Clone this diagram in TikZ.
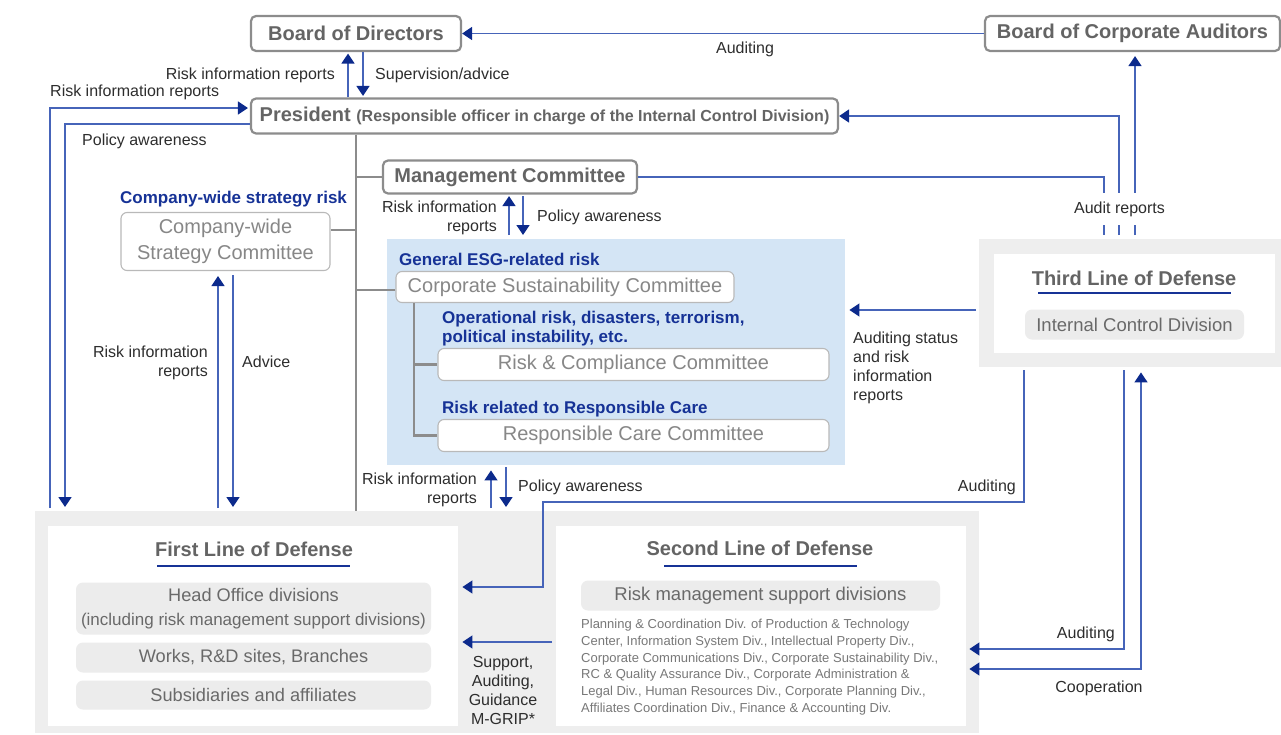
\documentclass[tikz,border=0pt]{standalone}
\usepackage{fontspec}
\setmainfont{Liberation Sans}
\usetikzlibrary{arrows.meta}
\definecolor{lineblue}{RGB}{70,100,185}
\definecolor{tipblue}{RGB}{12,42,140}
\definecolor{navy}{RGB}{22,50,150}
\definecolor{boxgray}{RGB}{140,140,140}
\definecolor{headgray}{RGB}{100,100,100}
\definecolor{lightborder}{RGB}{185,185,185}
\definecolor{committeetext}{RGB}{135,135,135}
\definecolor{pillgray}{RGB}{236,236,236}
\definecolor{panelgray}{RGB}{238,238,238}
\definecolor{esgblue}{RGB}{212,229,245}
\definecolor{labeltext}{RGB}{45,45,45}
\definecolor{pilltext}{RGB}{105,105,105}
\definecolor{smalltext}{RGB}{120,120,120}
\begin{document}
\begin{tikzpicture}[x=1pt,y=-1pt,
  bigbox/.style={draw=boxgray, line width=2.2pt, rounded corners=5pt, fill=white, text=headgray, font=\bfseries\fontsize{20}{24}\selectfont, inner sep=0pt},
  commbox/.style={draw=lightborder, line width=1.1pt, rounded corners=6pt, fill=white, text=committeetext, font=\fontsize{20}{26}\selectfont, inner sep=0pt, align=center},
  pill/.style={fill=pillgray, rounded corners=7pt, text=pilltext, font=\fontsize{18.2}{24}\selectfont, inner sep=0pt, align=center},
  bigpill/.style={pill, font=\fontsize{18.5}{24}\selectfont},
  lbl/.style={text=labeltext, font=\fontsize{16}{19}\selectfont, inner sep=0pt},
  risklbl/.style={text=navy, font=\bfseries\fontsize{17}{19.5}\selectfont, inner sep=0pt, align=left},
  heading/.style={text=headgray, font=\bfseries\fontsize{20}{24}\selectfont, inner sep=0pt},
  panel/.style={fill=panelgray, inner sep=0pt, anchor=north west},
  whitepanel/.style={fill=white, inner sep=0pt, anchor=north west},
  ln/.style={draw=lineblue, line width=1.4pt},
  arr/.style={ln, -{Triangle[length=10pt,width=13pt,fill=tipblue,color=tipblue]}},
  arrboth/.style={ln, {Triangle[length=10pt,width=13pt,fill=tipblue,color=tipblue]}-{Triangle[length=10pt,width=13pt,fill=tipblue,color=tipblue]}},
  trunk/.style={draw=boxgray, line width=2.8pt},
  uline/.style={draw=navy, line width=1.5pt}
]
\useasboundingbox (0,0) rectangle (1281,734);

% ---------- panels ----------
\node[panel, minimum width=458pt, minimum height=226pt, fill=esgblue] (esg) at (387,239) {};
\node[panel, minimum width=302pt, minimum height=128pt] (tld) at (979,239) {};
\node[whitepanel, minimum width=281pt, minimum height=99pt] (tldw) at (994,254) {};
\node[panel, minimum width=944pt, minimum height=222pt] (low) at (35,511) {};
\node[whitepanel, minimum width=410pt, minimum height=200pt] (fl) at (48,526) {};
\node[whitepanel, minimum width=410pt, minimum height=200pt] (sl) at (556,526) {};

% ---------- helper coordinates ----------
\coordinate (ax1) at (348,0);
\coordinate (ax2) at (363,0);
\coordinate (py1) at (0,108);
\coordinate (py2) at (0,124);
\coordinate (lp1) at (50,508);
\coordinate (lp2) at (65,507);
\coordinate (tx) at (356,0);
\coordinate (yb1) at (0,230);
\coordinate (yb2) at (0,290);
\coordinate (ix) at (414,0);
\coordinate (mx1) at (509,0);
\coordinate (mx2) at (523,0);
\coordinate (bx1) at (491,0);
\coordinate (bx2) at (506,0);
\coordinate (cx1) at (218,0);
\coordinate (cx2) at (233,0);
\coordinate (vx1) at (1104,0);
\coordinate (vx2) at (1119,0);
\coordinate (vx3) at (1135,0);
\coordinate (ya) at (0,310);
\coordinate (au1) at (1024,0);
\coordinate (au2) at (543,0);
\coordinate (jy) at (0,502);
\coordinate (yf) at (0,587);
\coordinate (ys) at (0,642);
\coordinate (a2) at (1124,0);
\coordinate (a3) at (1141,0);
\coordinate (y2a) at (0,649);
\coordinate (y2b) at (0,669);

% ---------- top boxes ----------
\node[bigbox, minimum width=210pt, minimum height=35pt] (bod) at (356,33.5) {Board of Directors};
\node[bigbox, minimum width=295pt, minimum height=35pt] (bca) at (1132.5,33.5) {Board of Corporate Auditors};
\node[bigbox, minimum width=587pt, minimum height=35pt] (pres) at (544.5,116) {President {\fontsize{16}{18}\selectfont (Responsible officer in charge of the Internal Control Division)}};
\node[bigbox, minimum width=254pt, minimum height=33pt] (mgmt) at (510,177) {Management Committee};

% ---------- committees ----------
\node[risklbl, anchor=west] (cwsr) at (120,199) {Company-wide strategy risk};
\node[commbox, minimum width=209pt, minimum height=58pt] (cws) at (225.5,241.5) {Company-wide\\Strategy Committee};

\node[risklbl, anchor=west] (esgr) at (399,259) {General ESG-related risk};
\node[commbox, minimum width=338pt, minimum height=31pt] (csc) at (565,287) {Corporate Sustainability Committee};
\node[risklbl, anchor=west] (opr) at (442,328.5) {Operational risk, disasters, terrorism,\\political instability, etc.};
\node[commbox, minimum width=391pt, minimum height=32pt] (rcc) at (633.5,364.5) {Risk \& Compliance Committee};
\node[risklbl, anchor=west] (rcr) at (442,409) {Risk related to Responsible Care};
\node[commbox, minimum width=391pt, minimum height=32pt] (resp) at (633.5,435.5) {Responsible Care Committee};

% ---------- third line ----------
\node[heading] (tldt) at (1134,278) {Third Line of Defense};
\draw[uline] (1038,293) -- (1231,293);
\node[bigpill, minimum width=219pt, minimum height=30pt] (icd) at (1134.5,324.5) {Internal Control Division};

% ---------- first line ----------
\node[heading] (flt) at (254,549) {First Line of Defense};
\draw[uline] (157,566) -- (350,566);
\node[pill, minimum width=355pt, minimum height=52pt] (ho) at (253.5,608.5) {Head Office divisions\\{\fontsize{17}{24}\selectfont(including risk management support divisions)}};
\node[pill, minimum width=355pt, minimum height=30pt] (works) at (253.5,657.5) {Works, R\&D sites, Branches};
\node[pill, minimum width=355pt, minimum height=29pt] (subs) at (253.5,695) {Subsidiaries and affiliates};

% ---------- second line ----------
\node[heading] (slt) at (760,548) {Second Line of Defense};
\draw[uline] (664,566) -- (857,566);
\node[bigpill, minimum width=359pt, minimum height=30pt] (rms) at (760.5,595.5) {Risk management support divisions};
\node[anchor=north west, inner sep=0pt, align=left, text=smalltext, font=\fontsize{13}{16.7}\selectfont] (divs) at (581,619) {Planning \& Coordination Div. of Production \& Technology\\Center, Information System Div., Intellectual Property Div.,\\Corporate Communications Div., Corporate Sustainability Div.,\\RC \& Quality Assurance Div., Corporate Administration \&\\Legal Div., Human Resources Div., Corporate Planning Div.,\\Affiliates Coordination Div., Finance \& Accounting Div.};

% ---------- gray organisational lines ----------
\draw[trunk] (pres.south -| tx) -- (low.north -| tx);
\draw[trunk] (mgmt.west) -- (mgmt.west -| tx);
\draw[trunk] (cws.east |- yb1) -- (tx |- yb1);
\draw[trunk] (csc.west |- yb2) -- (tx |- yb2);
\draw[trunk] (csc.south -| ix) |- (resp.west);
\draw[trunk] (ix |- rcc.west) -- (rcc.west);

% ---------- blue connectors ----------
\draw[arr] (bca.west) -- (bod.east);
\node[lbl] (l1) at (745,49.5) {Auditing};

\draw[arr, shorten >=1.5pt] (pres.north -| ax1) -- (bod.south -| ax1);
\draw[arr, shorten >=1.5pt] (bod.south -| ax2) -- (pres.north -| ax2);
\node[lbl, anchor=east] (l2) at (335,75) {Risk information reports};
\node[lbl, anchor=west] (l3) at (375,75) {Supervision/advice};

\draw[arr, shorten >=2pt] (lp1) |- (pres.west |- py1);
\node[lbl, anchor=west] (l4) at (50,92) {Risk information reports};
\draw[arr] (pres.west |- py2) -| (lp2);
\node[lbl, anchor=west] (l5) at (82,141) {Policy awareness};

\draw[arr, shorten >=1.5pt, shorten <=4pt] (esg.north -| mx1) -- (mgmt.south -| mx1);
\draw[arr, shorten >=4pt, shorten <=1.5pt] (mgmt.south -| mx2) -- (esg.north -| mx2);
\node[lbl, anchor=east, align=right] (l6) at (497,217.5) {Risk information\\reports};
\node[lbl, anchor=west] (l7) at (537,217) {Policy awareness};

\draw[arr, shorten >=5pt, shorten <=3pt] (low.north -| bx1) -- (esg.south -| bx1);
\draw[arr, shorten >=4pt, shorten <=2pt] (esg.south -| bx2) -- (low.north -| bx2);
\node[lbl, anchor=east, align=right] (l8) at (477,489.5) {Risk information\\reports};
\node[lbl, anchor=west] (l9) at (518,487) {Policy awareness};

\draw[arr, shorten >=5pt, shorten <=3pt] (low.north -| cx1) -- (cws.south -| cx1);
\draw[arr, shorten >=4pt, shorten <=4pt] (cws.south -| cx2) -- (low.north -| cx2);
\node[lbl, anchor=east, align=right] (l10) at (208,362.5) {Risk information\\reports};
\node[lbl, anchor=west] (l11) at (242,362) {Advice};

\draw[ln, shorten >=4pt] (mgmt.east) -| (tld.north -| vx1);
\draw[arr, shorten <=4pt] (tld.north -| vx2) |- (pres.east);
\draw[arr, shorten <=4pt, shorten >=4pt] (tld.north -| vx3) -- (bca.south -| vx3);
\node[lbl, fill=white, minimum height=32pt, inner xsep=1pt] (l12) at (1119.5,209) {Audit reports};

\draw[arr, shorten <=3pt, shorten >=4pt] (tld.west |- ya) -- (esg.east |- ya);
\node[lbl, anchor=north west, align=left] (l13) at (853,332) {Auditing status\\and risk\\information\\reports};

\draw[arr, shorten <=3pt, shorten >=4pt] (tld.south -| au1) -- (au1 |- jy) -- (au2 |- jy) |- (fl.east |- yf);
\node[lbl, anchor=east] (l14) at (1016,487) {Auditing};

\draw[arr, shorten <=4pt, shorten >=4pt] (sl.west |- ys) -- (fl.east |- ys);
\node[lbl, anchor=north, align=center] (l15) at (503,656) {Support,\\Auditing,\\Guidance\\M-GRIP*};

\draw[arr, shorten <=3pt, shorten >=3pt] (tld.south -| a2) |- (sl.east |- y2a);
\node[lbl, anchor=east] (l16) at (1115,634) {Auditing};
\draw[arrboth, shorten <=3pt, shorten >=5pt] (sl.east |- y2b) -| (tld.south -| a3);
\node[lbl] (l17) at (1099,688) {Cooperation};
\end{tikzpicture}
\end{document}
